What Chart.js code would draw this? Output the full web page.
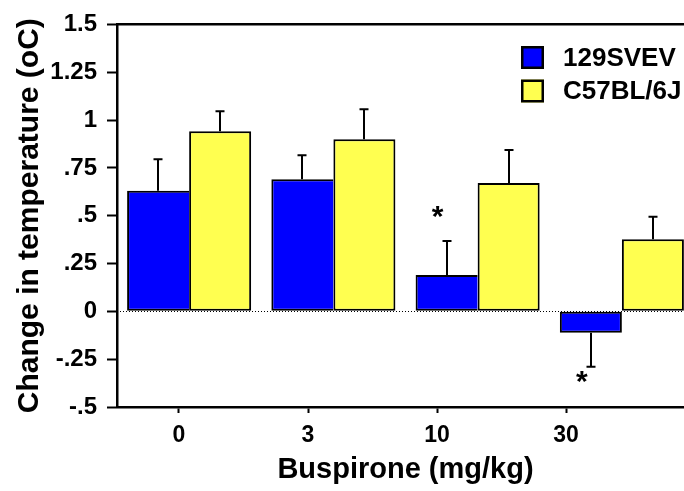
<!DOCTYPE html>
<html><head><meta charset="utf-8">
<script src="https://cdn.jsdelivr.net/npm/chart.js@4/dist/chart.umd.min.js"></script>
<style>
html,body{margin:0;padding:0;overflow:hidden;background:#fff;width:684px;height:491px}
#wrap{position:relative;width:700px;height:491px}
</style></head>
<body><div id="wrap"><canvas id="c" width="700" height="491"></canvas></div>
<script>
// ---- data ----
const doses = ['0', '3', '10', '30'];
const seriesNames = ['129SVEV', 'C57BL/6J'];
const strain129 = [0.63, 0.69, 0.19, -0.112];
const strain129Err = [0.165, 0.126, 0.178, 0.178];
const c57 = [0.941, 0.899, 0.671, 0.377];
const c57Err = [0.105, 0.157, 0.172, 0.117];
const yTickValues = [-0.5, -0.25, 0, 0.25, 0.5, 0.75, 1, 1.25, 1.5];
const yTickLabels = ['-.5', '-.25', '0', '.25', '.5', '.75', '1', '1.25', '1.5'];
const doseTickPositions = [0, 1, 2, 3];
const sigMarks = [{dataset: 0, index: 2, value: 0.52}, {dataset: 0, index: 3, value: -0.345}];

const FONT = "'Liberation Sans', Arial, Helvetica, sans-serif";
Chart.defaults.font.family = FONT;
Chart.defaults.color = '#000';

const errorsBySeries = [strain129Err, c57Err];

const zeroLine = {
  id: 'zeroLine',
  beforeDatasetsDraw(chart) {
    const {ctx, chartArea, scales} = chart;
    const y0 = Math.round(scales.y.getPixelForValue(0)) + 0.5;
    ctx.save();
    ctx.strokeStyle = '#000';
    ctx.lineWidth = 1;
    ctx.setLineDash([1, 2]);
    ctx.beginPath();
    ctx.moveTo(chartArea.left, y0);
    ctx.lineTo(chartArea.right, y0);
    ctx.stroke();
    ctx.restore();
  }
};

const errorBars = {
  id: 'errorBars',
  afterDatasetsDraw(chart) {
    const {ctx, scales} = chart;
    ctx.save();
    ctx.strokeStyle = '#000';
    ctx.lineWidth = 2;
    chart.data.datasets.forEach((ds, di) => {
      const meta = chart.getDatasetMeta(di);
      const errs = errorsBySeries[di];
      meta.data.forEach((el, i) => {
        const v = ds.data[i];
        const end = v >= 0 ? v + errs[i] : v - errs[i];
        const yEnd = scales.y.getPixelForValue(end);
        const x = Math.round(el.x);
        ctx.beginPath();
        ctx.moveTo(x, el.y);
        ctx.lineTo(x, yEnd);
        ctx.moveTo(x - 4.5, yEnd);
        ctx.lineTo(x + 4.5, yEnd);
        ctx.stroke();
      });
    });
    ctx.restore();
  }
};

const sigStars = {
  id: 'sigStars',
  afterDatasetsDraw(chart) {
    const {ctx, scales} = chart;
    ctx.save();
    ctx.fillStyle = '#000';
    ctx.font = "bold 30px " + FONT;
    ctx.textAlign = 'center';
    ctx.textBaseline = 'alphabetic';
    sigMarks.forEach(m => {
      const el = chart.getDatasetMeta(m.dataset).data[m.index];
      const y = scales.y.getPixelForValue(m.value);
      ctx.fillText('*', el.x - 9, y + 14);
    });
    ctx.restore();
  }
};

const boxLegend = {
  id: 'boxLegend',
  afterDraw(chart) {
    const {ctx} = chart;
    ctx.save();
    chart.data.datasets.forEach((ds, i) => {
      const bx = 521, by = 46 + i * 33.5, s = 23;
      ctx.fillStyle = ds.backgroundColor;
      ctx.fillRect(bx, by, s, s);
      ctx.strokeStyle = '#000';
      ctx.lineWidth = 2.5;
      ctx.strokeRect(bx + 1.25, by + 1.25, s - 2.5, s - 2.5);
      ctx.fillStyle = '#000';
      ctx.font = "bold 26px " + FONT;
      ctx.textAlign = 'left';
      ctx.textBaseline = 'middle';
      ctx.fillText(ds.label, 563, by + s / 2 + 1);
    });
    ctx.restore();
  }
};

new Chart(document.getElementById('c'), {
  type: 'bar',
  data: {
    labels: doses,
    datasets: [
      {
        label: seriesNames[0], data: strain129,
        backgroundColor: '#0000FF', borderColor: '#000', borderSkipped: false,
        borderWidth: (c) => {
          const i = c.dataIndex;
          const covered = strain129[i] >= 0 && c57[i] >= strain129[i];
          return {top: 2, bottom: 2, left: 2, right: covered ? 0 : 2};
        }
      },
      {
        label: seriesNames[1], data: c57,
        backgroundColor: '#FFFF50', borderColor: '#000', borderSkipped: false,
        borderWidth: 2
      }
    ]
  },
  options: {
    responsive: false,
    animation: false,
    events: [],
    layout: {padding: {left: 0, top: 24, right: 6, bottom: 0}},
    datasets: {bar: {categoryPercentage: 0.86, barPercentage: 1.0}},
    plugins: {legend: {display: false}, tooltip: {enabled: false}},
    scales: {
      x: {type: 'category', display: false, offset: true, grid: {display: false}},
      xl: {
        type: 'linear', position: 'bottom', min: -0.4806, max: 3.9922,
        offset: false,
        afterBuildTicks: (s) => { s.ticks = doseTickPositions.map(v => ({value: v})); },
        ticks: {callback: (v, i) => doses[i], font: {size: 23, weight: 'bold'}, padding: 9, maxRotation: 0, autoSkip: false, color: '#000'},
        grid: {offset: false, drawOnChartArea: false, tickLength: 6, tickWidth: 2, tickColor: '#000'},
        border: {color: '#000', width: 2.5},
        title: {display: true, text: 'Buspirone (mg/kg)', font: {size: 29, weight: 'bold'}, padding: {top: 4, bottom: 4}, color: '#000'},
        afterFit: (s) => { s.height = 84; }
      },
      xt: {
        type: 'linear', position: 'top', min: 0, max: 1,
        offset: false,
        ticks: {display: false},
        grid: {offset: false, display: false, drawTicks: false},
        border: {display: true, color: '#000', width: 2.5},
        afterFit: (s) => { s.height = 0; }
      },
      y: {
        min: -0.5, max: 1.5,
        afterBuildTicks: (s) => { s.ticks = yTickValues.map(v => ({value: v})); },
        ticks: {callback: (v, i) => yTickLabels[i], font: {size: 24, weight: 'bold'}, padding: 10, color: '#000'},
        grid: {drawOnChartArea: false, tickLength: 10, tickWidth: 2, tickColor: '#000'},
        border: {color: '#000', width: 2.5},
        title: {display: true, text: 'Change in temperature (oC)', font: {size: 30, weight: 'bold'}, padding: {top: 12, bottom: 0}, color: '#000'},
        afterFit: (s) => { s.width = 117; }
      }
    }
  },
  plugins: [zeroLine, errorBars, sigStars, boxLegend]
});
</script>
</body></html>
